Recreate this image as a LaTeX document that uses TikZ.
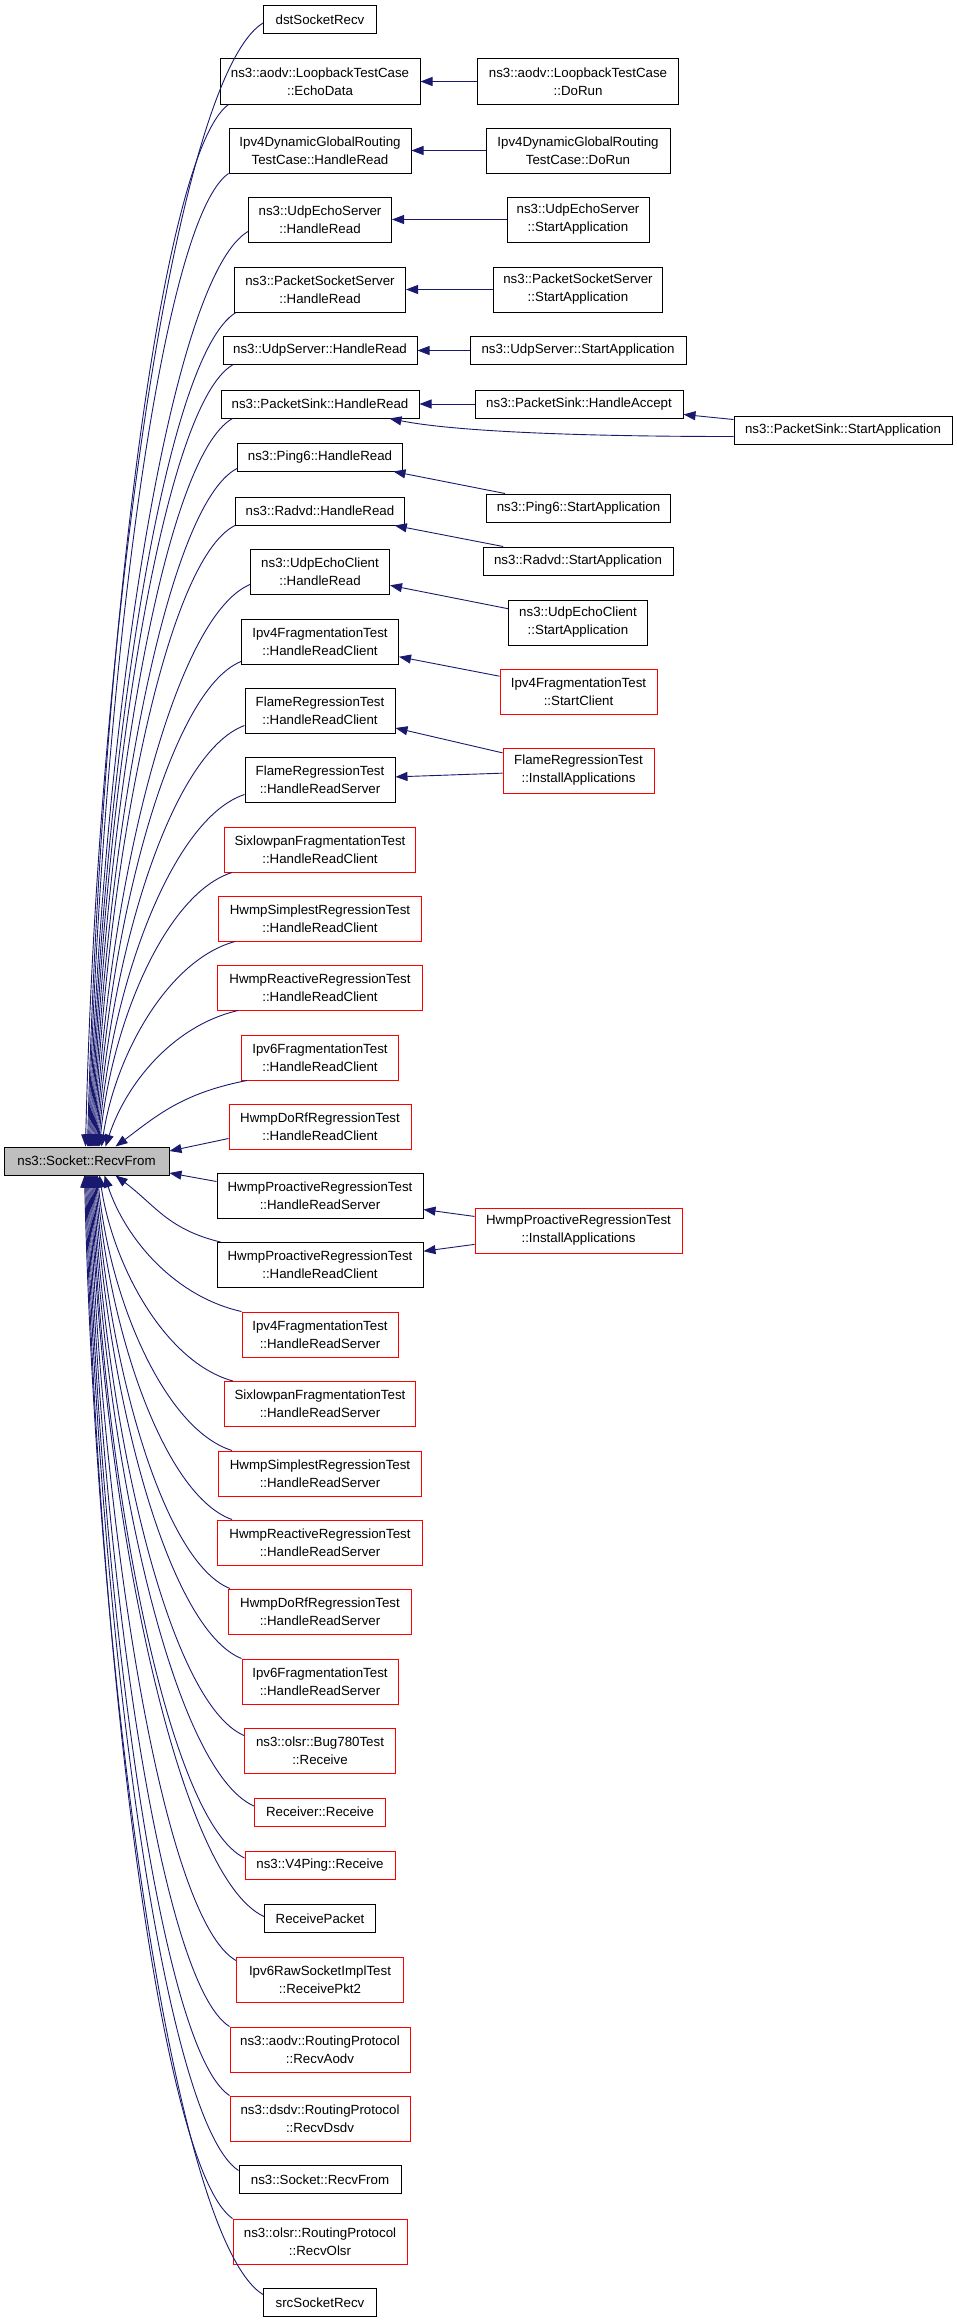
\documentclass[tikz,border=0pt]{standalone}
\usepackage{fontspec}
\setmainfont{Liberation Sans}
\usetikzlibrary{calc,arrows.meta}
\definecolor{edgec}{HTML}{191970}
\definecolor{redc}{HTML}{FF0000}
\definecolor{rootfill}{HTML}{BFBFBF}
\tikzset{
  box/.style={draw=black, line width=1pt, fill=white, align=center, inner xsep=2pt, inner ysep=0pt,
    minimum height=28pt, font=\fontsize{13.3}{18}\selectfont},
  rbox/.style={box, draw=redc},
  gbox/.style={box, fill=rootfill},
  two/.style={minimum height=45pt},
  cedge/.style={draw=edgec, line width=0.9pt, -{Triangle[length=12pt,width=9pt]}},
}
% edge from a caller above the root to the root's top side
\newcommand{\topcall}[3]{\draw[cedge] let \p1=(#1), \p2=($(root.north west)+(#2-4,0)$),
  \n1={\x1-\x2}, \n2={\y1-\y2} in
  (\p1) .. controls ($(\p1)+({-0.5*\n1},{-0.04*\n2-10})$) and ($(\p2)+(#3,{0.45*\n2})$) .. (\p2);}
% edge from a caller below the root to the root's bottom side
\newcommand{\botcall}[3]{\draw[cedge] let \p1=(#1), \p2=($(root.south west)+(#2-4,0)$),
  \n1={\x1-\x2}, \n2={\y2-\y1} in
  (\p1) .. controls ($(\p1)+({-0.5*\n1},{0.04*\n2+10})$) and ($(\p2)+(#3,{-0.45*\n2})$) .. (\p2);}
\begin{document}
\begin{tikzpicture}[x=1pt,y=1pt]
\useasboundingbox (0,0) rectangle (957,-2323);
% root
\node[gbox, minimum width=165pt] (root) at (86.5,-1161) {ns3::Socket::RecvFrom};
% left column
\node[box, minimum width=113pt] (n1) at (320,-20) {dstSocketRecv};
\node[box, two, minimum width=200pt] (n2) at (320,-81.5) {ns3::aodv::LoopbackTestCase\\::EchoData};
\node[box, two, minimum width=182pt] (n3) at (320,-150.5) {Ipv4DynamicGlobalRouting\\TestCase::HandleRead};
\node[box, two, minimum width=143pt] (n4) at (320,-219.5) {ns3::UdpEchoServer\\::HandleRead};
\node[box, two, minimum width=171pt] (n5) at (320,-289.5) {ns3::PacketSocketServer\\::HandleRead};
\node[box, minimum width=194pt] (n6) at (320,-350.5) {ns3::UdpServer::HandleRead};
\node[box, minimum width=198pt] (n7) at (320,-404) {ns3::PacketSink::HandleRead};
\node[box, minimum width=165pt] (n8) at (320,-457) {ns3::Ping6::HandleRead};
\node[box, minimum width=169pt] (n9) at (320,-511) {ns3::Radvd::HandleRead};
\node[box, two, minimum width=139pt] (n10) at (320,-571.5) {ns3::UdpEchoClient\\::HandleRead};
\node[box, two, minimum width=157pt] (n11) at (320,-641.5) {Ipv4FragmentationTest\\::HandleReadClient};
\node[box, two, minimum width=150pt] (n12) at (320,-710.5) {FlameRegressionTest\\::HandleReadClient};
\node[box, two, minimum width=150pt] (n13) at (320,-779.5) {FlameRegressionTest\\::HandleReadServer};
\node[rbox, two, minimum width=191pt] (n14) at (320,-849.5) {SixlowpanFragmentationTest\\::HandleReadClient};
\node[rbox, two, minimum width=203pt] (n15) at (320,-918.5) {HwmpSimplestRegressionTest\\::HandleReadClient};
\node[rbox, two, minimum width=205pt] (n16) at (320,-987.5) {HwmpReactiveRegressionTest\\::HandleReadClient};
\node[rbox, two, minimum width=157pt] (n17) at (320,-1057.5) {Ipv6FragmentationTest\\::HandleReadClient};
\node[rbox, two, minimum width=182pt] (n18) at (320,-1126.5) {HwmpDoRfRegressionTest\\::HandleReadClient};
\node[box, two, minimum width=206pt] (n19) at (320,-1195.5) {HwmpProactiveRegressionTest\\::HandleReadServer};
\node[box, two, minimum width=206pt] (n20) at (320,-1265) {HwmpProactiveRegressionTest\\::HandleReadClient};
\node[rbox, two, minimum width=156pt] (n21) at (320,-1334.5) {Ipv4FragmentationTest\\::HandleReadServer};
\node[rbox, two, minimum width=191pt] (n22) at (320,-1404) {SixlowpanFragmentationTest\\::HandleReadServer};
\node[rbox, two, minimum width=203pt] (n23) at (320,-1473.5) {HwmpSimplestRegressionTest\\::HandleReadServer};
\node[rbox, two, minimum width=205pt] (n24) at (320,-1542.5) {HwmpReactiveRegressionTest\\::HandleReadServer};
\node[rbox, two, minimum width=183pt] (n25) at (320,-1611.5) {HwmpDoRfRegressionTest\\::HandleReadServer};
\node[rbox, two, minimum width=156pt] (n26) at (320,-1681.5) {Ipv6FragmentationTest\\::HandleReadServer};
\node[rbox, two, minimum width=151pt] (n27) at (320,-1750.5) {ns3::olsr::Bug780Test\\::Receive};
\node[rbox, minimum width=131pt] (n28) at (320,-1812) {Receiver::Receive};
\node[rbox, minimum width=150pt] (n29) at (320,-1865) {ns3::V4Ping::Receive};
\node[box, minimum width=111pt] (n30) at (320,-1918.5) {ReceivePacket};
\node[rbox, two, minimum width=167pt] (n31) at (320,-1979.5) {Ipv6RawSocketImplTest\\::ReceivePkt2};
\node[rbox, two, minimum width=180pt] (n32) at (320,-2049.5) {ns3::aodv::RoutingProtocol\\::RecvAodv};
\node[rbox, two, minimum width=180pt] (n33) at (320,-2118.5) {ns3::dsdv::RoutingProtocol\\::RecvDsdv};
\node[box, minimum width=162pt] (n34) at (320,-2179.5) {ns3::Socket::RecvFrom};
\node[rbox, two, minimum width=174pt] (n35) at (320,-2241.5) {ns3::olsr::RoutingProtocol\\::RecvOlsr};
\node[box, minimum width=113pt] (n36) at (320,-2302.5) {srcSocketRecv};
% right column
\node[box, two, minimum width=201pt] (r2) at (578,-81.5) {ns3::aodv::LoopbackTestCase\\::DoRun};
\node[box, two, minimum width=184pt] (r3) at (578,-150.5) {Ipv4DynamicGlobalRouting\\TestCase::DoRun};
\node[box, two, minimum width=142pt] (r4) at (578,-219.5) {ns3::UdpEchoServer\\::StartApplication};
\node[box, two, minimum width=169pt] (r5) at (578,-289.5) {ns3::PacketSocketServer\\::StartApplication};
\node[box, minimum width=216pt] (r6) at (578,-350.5) {ns3::UdpServer::StartApplication};
\node[box, minimum width=208pt] (r7) at (579,-404) {ns3::PacketSink::HandleAccept};
\node[box, minimum width=184pt] (r8) at (578.5,-508) {ns3::Ping6::StartApplication};
\node[box, minimum width=190pt] (r9) at (578,-561) {ns3::Radvd::StartApplication};
\node[box, two, minimum width=139pt] (r10) at (578,-622.5) {ns3::UdpEchoClient\\::StartApplication};
\node[rbox, two, minimum width=157pt] (r11) at (578.5,-691.5) {Ipv4FragmentationTest\\::StartClient};
\node[rbox, two, minimum width=151pt] (r12) at (578.5,-770.5) {FlameRegressionTest\\::InstallApplications};
\node[rbox, two, minimum width=207pt] (r19) at (578.5,-1230.5) {HwmpProactiveRegressionTest\\::InstallApplications};
\node[box, minimum width=218pt] (s7) at (843,-430.5) {ns3::PacketSink::StartApplication};
% right-side edges
\draw[cedge] (r2) -- (n2);
\draw[cedge] (r3) -- (n3);
\draw[cedge] (r4) -- (n4);
\draw[cedge] (r5) -- (n5);
\draw[cedge] (r6) -- (n6);
\draw[cedge] (r7) -- (n7);
\draw[cedge] (s7) -- (r7);
\draw[cedge] ($(s7.west)+(0,-6)$) .. controls +(-170,0) and +(60,-12) .. ($(n7.south east)+(-30,0)$);
\draw[cedge] (r8) -- (n8);
\draw[cedge] (r9) -- (n9);
\draw[cedge] (r10) -- (n10);
\draw[cedge] (r11) -- (n11);
\draw[cedge] (r12) -- (n12);
\draw[cedge] (r12) -- (n13);
\draw[cedge] (r19) -- (n19);
\draw[cedge] (r19) -- (n20);
% edges into the root from above
\topcall{$(n1.west)+(0,-3)$}{86}{12}
\topcall{$(n2.south west)+(9,0)$}{88}{12}
\topcall{n3.south west}{89}{12}
\topcall{$(n4.west)+(0,-12)$}{90}{12}
\topcall{$(n5.south west)+(2,0)$}{91}{12}
\topcall{$(n6.south west)+(10,0)$}{92}{12}
\topcall{$(n7.south west)+(12,0)$}{93}{12}
\topcall{$(n8.south west)+(0,3)$}{94}{12}
\topcall{n9.south west}{95}{12}
\topcall{$(n10.west)+(0,-13)$}{96}{12}
\topcall{$(n11.south west)+(0,3)$}{97}{12}
\topcall{$(n12.west)+(0,-15)$}{98}{12}
\topcall{$(n13.west)+(0,-15)$}{99}{12}
\topcall{$(n14.south west)+(8,0)$}{100}{12}
\topcall{$(n15.south west)+(17,0)$}{102}{14}
\topcall{$(n16.south west)+(21,0)$}{106}{20}
\topcall{$(n17.south west)+(6,0)$}{116}{40}
\draw[cedge] ($(n18.west)+(0,-12)$) -- ($(root.east)+(0,10)$);
\draw[cedge] ($(n19.west)+(0,14)$) -- ($(root.east)+(0,-12)$);
% edges into the root from below
\botcall{$(n20.north west)+(4,0)$}{116}{40}
\botcall{n21.north west}{105}{20}
\botcall{$(n22.north west)+(9,0)$}{100}{14}
\botcall{$(n23.north west)+(14,0)$}{98}{12}
\botcall{$(n24.north west)+(15,0)$}{97}{12}
\botcall{$(n25.north west)+(2,0)$}{96}{12}
\botcall{n26.north west}{95}{12}
\botcall{$(n27.west)+(0,15)$}{94}{12}
\botcall{$(n28.west)+(0,6)$}{93}{12}
\botcall{$(n29.west)+(0,7)$}{92}{12}
\botcall{$(n30.west)+(0,2)$}{91}{12}
\botcall{$(n31.north west)+(0,-4)$}{90}{12}
\botcall{n32.north west}{89}{12}
\botcall{n33.north west}{88}{12}
\botcall{$(n34.west)+(0,9)$}{87}{12}
\botcall{n35.north west}{86}{12}
\botcall{$(n36.west)+(0,8)$}{85}{12}
\end{tikzpicture}
\end{document}
